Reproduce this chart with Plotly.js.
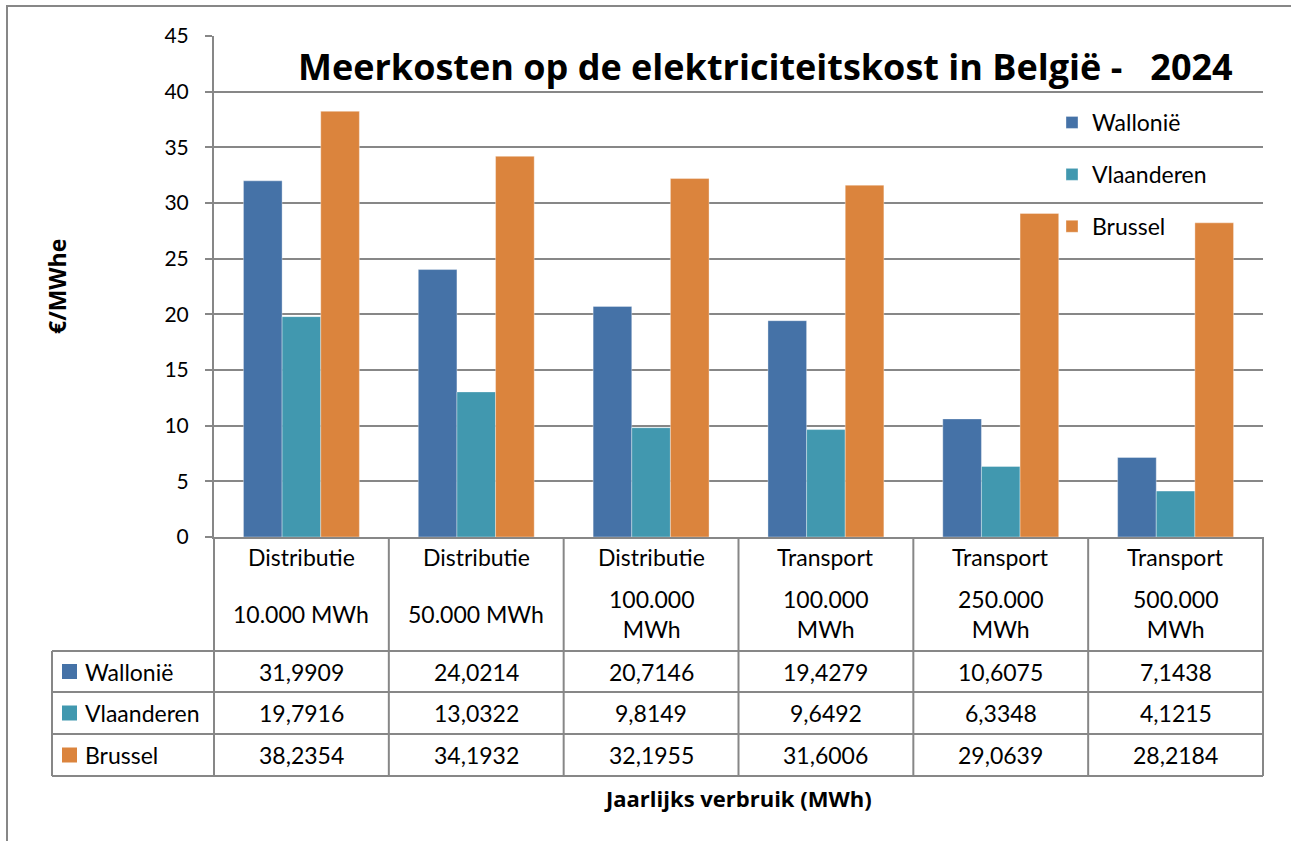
<!DOCTYPE html>
<html>
<head>
<meta charset="utf-8">
<script src="https://cdn.plot.ly/plotly-3.0.1.min.js"></script>
<style>
html,body{margin:0;padding:0;background:#fff;}
#chart{width:1291px;height:841px;}
</style>
</head>
<body>
<div id="chart"></div>
<script>
// ---- data ----
const catType = ['Distributie','Distributie','Distributie','Transport','Transport','Transport'];
const catVolume = ['10.000 MWh','50.000 MWh','100.000<br>MWh','100.000<br>MWh','250.000<br>MWh','500.000<br>MWh'];
const seriesNames = ['Wallonië','Vlaanderen','Brussel'];
const wallonie = [31.9909, 24.0214, 20.7146, 19.4279, 10.6075, 7.1438];
const vlaanderen = [19.7916, 13.0322, 9.8149, 9.6492, 6.3348, 4.1215];
const brussel = [38.2354, 34.1932, 32.1955, 31.6006, 29.0639, 28.2184];
const yTicks = [0,5,10,15,20,25,30,35,40,45];
const titleText = 'Meerkosten op de elektriciteitskost in België -\u00a0\u00a0\u00a02024';
const yTitle = '€/MWhe';
const xTitle = 'Jaarlijks verbruik (MWh)';

// ---- styling / layout ----
const colors = ['#4572A7','#4198AF','#DB843D'];
const grid = '#878787';
const FONT = 'Lato, "Open Sans", sans-serif';
const BFONT = '"Open Sans", Lato, sans-serif';
const W = 1291, H = 841;
const PX0 = 214, PX1 = 1263, PY0 = 537, PY1 = 36;
const px = v => (v - PX0) / (PX1 - PX0);
const py = v => (PY0 - v) / (PY0 - PY1);

const cats = catType.map((t,i) => t + ' ' + catVolume[i].replace('<br>',' '));
const series = [wallonie, vlaanderen, brussel];

const traces = series.map((vals, k) => ({
  type: 'bar',
  name: seriesNames[k],
  x: cats,
  y: vals,
  marker: {color: colors[k], line: {color: 'rgba(255,255,255,0.35)', width: 1}},
  legendgroup: 'g' + k,
  hoverinfo: 'y+name'
}));

const shapes = [];
const annotations = [];

// outer frame
shapes.push({type:'rect', xref:'paper', yref:'paper', x0:px(7), x1:px(1300), y0:py(6), y1:py(850),
  line:{color:grid, width:2}, fillcolor:'rgba(0,0,0,0)', layer:'below'});

// table lines
const rowsY = [651, 692, 734, 776];
rowsY.forEach(yv => shapes.push({type:'line', xref:'paper', yref:'paper',
  x0:px(52), x1:px(PX1), y0:py(yv), y1:py(yv), line:{color:grid, width:2}}));
shapes.push({type:'line', xref:'paper', yref:'paper', x0:px(52), x1:px(52), y0:py(651), y1:py(776), line:{color:grid, width:2}});
const colW = (PX1 - PX0) / cats.length;
for (let k = 0; k <= cats.length; k++) {
  const xv = PX0 + k * colW;
  shapes.push({type:'line', xref:'paper', yref:'paper', x0:px(xv), x1:px(xv), y0:py(PY0), y1:py(776), line:{color:grid, width:2}});
}

// category header text
cats.forEach((c, i) => {
  annotations.push({xref:'x', yref:'paper', x:c, y:py(557), text:catType[i], showarrow:false,
    font:{family:FONT, size:23, color:'#000'}, xanchor:'center', yanchor:'middle'});
  annotations.push({xref:'x', yref:'paper', x:c, y:py(614), text:catVolume[i], showarrow:false,
    font:{family:FONT, size:23, color:'#000'}, xanchor:'center', yanchor:'middle'});
});

// table rows
const rowC = [671.5, 713, 755];
series.forEach((vals, k) => {
  shapes.push({type:'rect', xref:'paper', yref:'paper', x0:px(62), x1:px(77), y0:py(rowC[k]-7.5), y1:py(rowC[k]+7.5),
    fillcolor:colors[k], line:{width:0}});
  annotations.push({xref:'paper', yref:'paper', x:px(83), y:py(rowC[k]), text:seriesNames[k], showarrow:false,
    font:{family:FONT, size:23, color:'#000'}, xanchor:'left', yanchor:'middle'});
  vals.forEach((v, i) => {
    annotations.push({xref:'x', yref:'paper', x:cats[i], y:py(rowC[k]), text:v.toFixed(4).replace('.', ','), showarrow:false,
      font:{family:FONT, size:23, color:'#000'}, xanchor:'center', yanchor:'middle'});
  });
});

// titles
annotations.push({xref:'paper', yref:'paper', x:px(765), y:py(66), text:'<b>'+titleText+'</b>', showarrow:false,
  font:{family:BFONT, size:36, color:'#000'}, xanchor:'center', yanchor:'middle'});
annotations.push({xref:'paper', yref:'paper', x:px(57), y:py(287), text:'<b>'+yTitle+'</b>', showarrow:false, textangle:-90,
  font:{family:BFONT, size:23, color:'#000'}, xanchor:'center', yanchor:'middle'});
annotations.push({xref:'paper', yref:'paper', x:px(738), y:py(798), text:'<b>'+xTitle+'</b>', showarrow:false,
  font:{family:BFONT, size:22, color:'#000'}, xanchor:'center', yanchor:'middle'});

const layout = {
  width: W, height: H,
  margin: {l: PX0, r: W - PX1, t: PY1, b: H - PY0, pad: 0},
  paper_bgcolor: '#fff', plot_bgcolor: '#fff',
  barmode: 'group', bargap: 0.337, bargroupgap: 0,
  font: {family: FONT, color: '#000'},
  xaxis: {type:'category', showticklabels:false, ticks:'', showgrid:false, showline:true, linecolor:grid, linewidth:2,
    zeroline:false, fixedrange:true},
  yaxis: {range:[0,45], tickvals:yTicks, ticktext:yTicks.map(String), showgrid:true, gridcolor:grid, gridwidth:2,
    ticks:'outside', ticklen:7, tickcolor:grid, tickwidth:2, showline:true, linecolor:grid, linewidth:2,
    zeroline:false, tickfont:{family:FONT, size:21, color:'#000'}, ticklabelstandoff:12, fixedrange:true},
  showlegend: true,
  legend: {x: px(1052), y: py(101), xanchor:'left', yanchor:'top', bgcolor:'rgba(255,255,255,0)',
    font:{family:FONT, size:23, color:'#000'}, traceorder:'grouped', tracegroupgap:19, itemwidth:30},
  shapes: shapes,
  annotations: annotations
};

Plotly.newPlot('chart', traces, layout, {displayModeBar:false, staticPlot:true});
</script>
</body>
</html>
